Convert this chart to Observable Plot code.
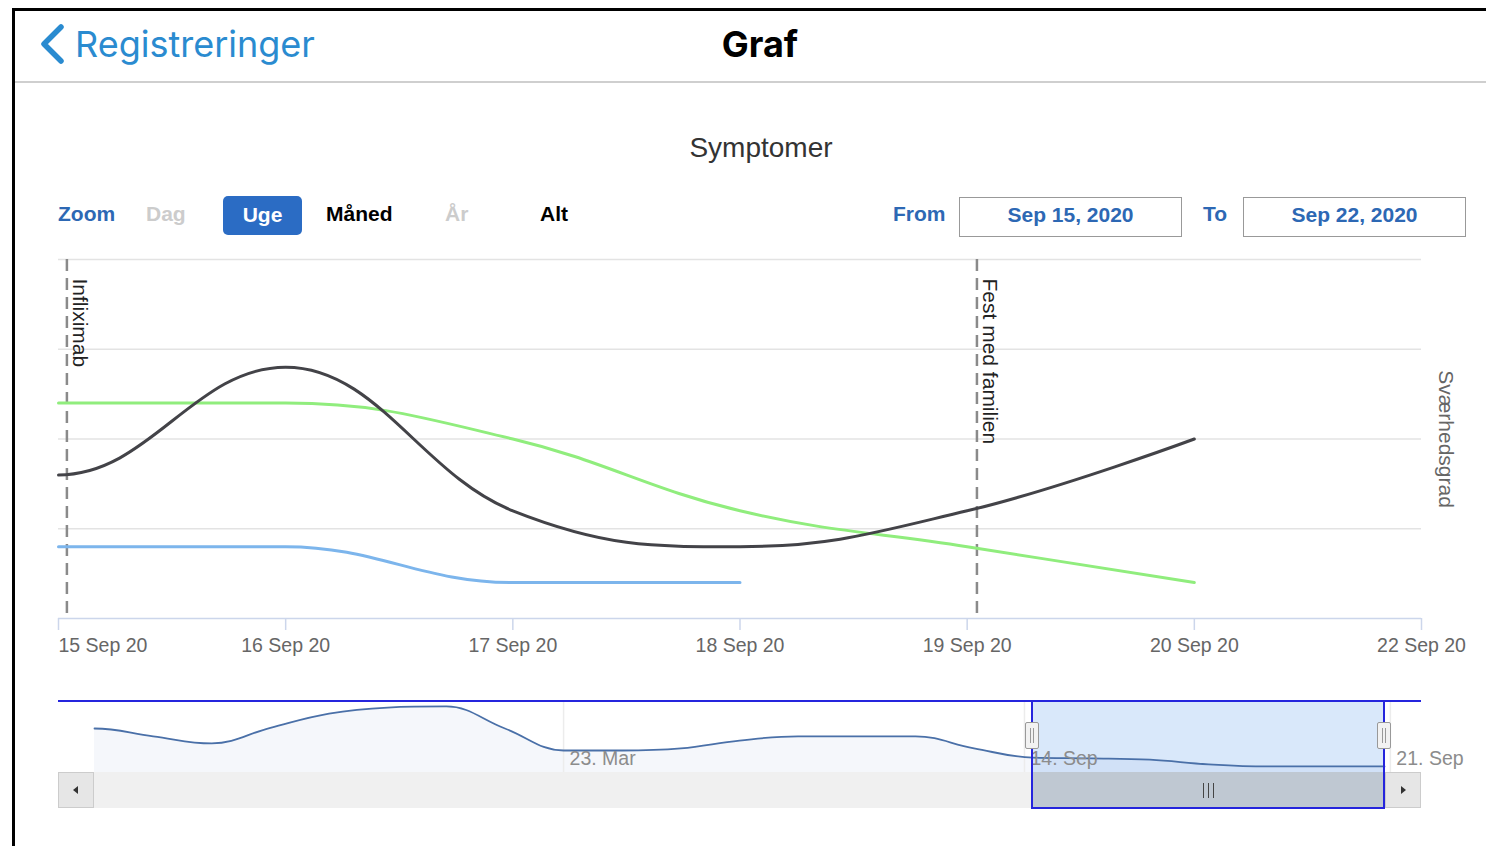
<!DOCTYPE html>
<html>
<head>
<meta charset="utf-8">
<script src="https://cdn.jsdelivr.net/npm/d3@7"></script>
<script src="https://cdn.jsdelivr.net/npm/@observablehq/plot@0.6"></script>
<style>
  html, body { margin: 0; padding: 0; background: #fff; }
  body { width: 1486px; height: 846px; position: relative; overflow: hidden; font-family: "Liberation Sans", Arial, sans-serif; }
  .abs { position: absolute; }
  .hdr { font-family: Inter, "Noto Sans", sans-serif; font-size: 36px; line-height: 36px; white-space: nowrap; }
  .rs { font-size: 21px; font-weight: bold; line-height: 40px; height: 40px; top: 194px; white-space: nowrap; }
  .box { top: 197px; width: 223px; height: 40px; box-sizing: border-box; border: 1.5px solid #999; text-align: center; line-height: 33px; font-size: 21px; font-weight: bold; color: #2d68b4; }
  #mainChart, #navChart { position: absolute; left: 0; }
  #mainChart { top: 240px; }
  #navChart { top: 690px; }
</style>
</head>
<body>
<!-- device frame -->
<div class="abs" style="left:12px;top:8px;width:1474px;height:3px;background:#000"></div>
<div class="abs" style="left:12px;top:8px;width:3px;height:838px;background:#000"></div>

<!-- navigation header -->
<svg class="abs" style="left:36px;top:22px" width="34" height="46">
  <polyline points="25,5 8,22 25,39" fill="none" stroke="#2a8bd0" stroke-width="5.5" stroke-linecap="round" stroke-linejoin="round"/>
</svg>
<div class="abs hdr" style="left:75px;top:26px;color:#2a8bd0">Registreringer</div>
<div class="abs hdr" style="left:660px;top:26px;width:200px;text-align:center;font-weight:bold;color:#000">Graf</div>
<div class="abs" style="left:15px;top:81px;width:1471px;height:1.5px;background:#cfcfcf"></div>

<!-- chart title -->
<div class="abs" style="left:561px;top:134px;width:400px;text-align:center;font-size:28px;line-height:28px;color:#333">Symptomer</div>

<!-- range selector -->
<div class="abs rs" style="left:58px;color:#2d68b4">Zoom</div>
<div class="abs rs" style="left:146px;color:#cccccc">Dag</div>
<div class="abs" style="left:223px;top:196px;width:79px;height:39px;border-radius:5px;background:#2b6cc4;color:#fff;font-size:21px;font-weight:bold;line-height:37px;text-align:center">Uge</div>
<div class="abs rs" style="left:326px;color:#000">Måned</div>
<div class="abs rs" style="left:445px;color:#cccccc">År</div>
<div class="abs rs" style="left:540px;color:#000">Alt</div>
<div class="abs rs" style="left:893px;color:#2d68b4">From</div>
<div class="abs box" style="left:959px">Sep 15, 2020</div>
<div class="abs rs" style="left:1203px;color:#2d68b4">To</div>
<div class="abs box" style="left:1243px">Sep 22, 2020</div>

<div id="mainChart"></div>
<div id="navChart"></div>
<div id="scroll"></div>

<script>
// ---------------- data ----------------
const xLabels = ["15 Sep 20", "16 Sep 20", "17 Sep 20", "18 Sep 20", "19 Sep 20", "20 Sep 20", "22 Sep 20"];
const seriesBlack = [4, 7, 3, 2, 3, 5];
const seriesGreen = [6, 6, 5, 3, 2, 1];
const seriesBlue  = [2, 2, 1, 1];
const yGrid = [2.5, 5, 7.5, 10];
const yTitle = "Sværhedsgrad";

const plotLineLabels = ["Infliximab", "Fest med familien"];
const plotLineAt = [0.037, 4.043];   // position in days from 15 Sep

// navigator (whole history, ordinal positions)
const navValues = [6.2, 5.1, 4.1, 6.3, 8.3, 9.15, 9.3, 6.2, 3.1, 3.1, 3.4, 4.5, 5.1, 5.1, 5.1, 3.4, 2.1, 2.0, 1.8, 1.15, 0.85, 0.85, 0.85];
const navTickLabels = ["23. Mar", "14. Sep", "21. Sep"];
const navTickAt = [8, 15.86, 22.1];
const navSelection = [16, 22];

// ------------- Highcharts-like spline curve -------------
function splineControls(p, i) {
  const [x, y] = p[i];
  let prev = p[i - 1];
  const next = p[i + 1];
  if (!next) return {lx: x, ly: y, rx: x, ry: y};
  if (!prev) prev = [2 * x - next[0], y];
  const s = 1.5, d = 2.5;
  let lx = (s * x + prev[0]) / d, ly = (s * y + prev[1]) / d;
  let rx = (s * x + next[0]) / d, ry = (s * y + next[1]) / d;
  if (rx !== lx) {
    const c = ((ry - ly) * (rx - x)) / (rx - lx) + y - ry;
    ly += c; ry += c;
  }
  if (ly > prev[1] && ly > y) { ly = Math.max(prev[1], y); ry = 2 * y - ly; }
  else if (ly < prev[1] && ly < y) { ly = Math.min(prev[1], y); ry = 2 * y - ly; }
  if (ry > next[1] && ry > y) { ry = Math.max(next[1], y); ly = 2 * y - ry; }
  else if (ry < next[1] && ry < y) { ry = Math.min(next[1], y); ly = 2 * y - ry; }
  return {lx, ly, rx, ry};
}
function hcSpline(context) {
  return {
    areaStart() { this._line = 0; },
    areaEnd() { this._line = NaN; },
    lineStart() { this._pts = []; },
    point(x, y) { this._pts.push([+x, +y]); },
    lineEnd() {
      const p = this._pts, n = p.length;
      if (n) {
        if (this._line) context.lineTo(p[0][0], p[0][1]); else context.moveTo(p[0][0], p[0][1]);
        const c = p.map((_, i) => splineControls(p, i));
        for (let i = 1; i < n; i++) {
          context.bezierCurveTo(c[i - 1].rx, c[i - 1].ry, c[i].lx, c[i].ly, p[i][0], p[i][1]);
        }
      }
      if (this._line || (this._line !== 0 && n === 1)) context.closePath();
      this._line = 1 - this._line;
    }
  };
}

// ------------- main chart -------------
const toRows = (arr) => arr.map((v, i) => ({day: i, value: v}));
const xIdx = xLabels.map((_, i) => i);
const plotLines = plotLineLabels.map((label, i) => ({label, at: plotLineAt[i]}));
const FONT = "Liberation Sans, Arial, sans-serif";

const main = Plot.plot({
  width: 1486,
  height: 430,
  marginLeft: 58,
  marginRight: 65,
  marginTop: 19,
  marginBottom: 52,
  x: {domain: [0, xLabels.length - 1], axis: null},
  y: {domain: [0, 10], axis: null},
  style: {background: "transparent", fontFamily: FONT, overflow: "visible"},
  marks: [
    Plot.ruleY(yGrid, {stroke: "#e3e3e3", strokeWidth: 1.5}),
    Plot.ruleY([0], {stroke: "#ccd6eb", strokeWidth: 1.5}),
    Plot.ruleX(xIdx, {x: d => d, y1: 0, y2: 0, insetBottom: -12, stroke: "#ccd6eb", strokeWidth: 1.5}),
    Plot.text(xIdx.slice(0, 1), {x: d => d, y: 0, dy: 27, text: i => xLabels[i], textAnchor: "start", fontSize: 19.5, fill: "#666"}),
    Plot.text(xIdx.slice(1), {x: d => d, y: 0, dy: 27, text: i => xLabels[i], textAnchor: "middle", fontSize: 19.5, fill: "#666"}),
    Plot.ruleX(plotLines, {x: "at", stroke: "#8a8a8a", strokeWidth: 2.5, strokeDasharray: "12,7"}),
    Plot.line(toRows(seriesBlue), {x: "day", y: "value", stroke: "#7cb5ec", strokeWidth: 3, curve: hcSpline}),
    Plot.line(toRows(seriesGreen), {x: "day", y: "value", stroke: "#90ed7d", strokeWidth: 3, curve: hcSpline}),
    Plot.line(toRows(seriesBlack), {x: "day", y: "value", stroke: "#434348", strokeWidth: 3, curve: hcSpline}),
    Plot.text(plotLines, {x: "at", frameAnchor: "top", text: "label", rotate: 90, textAnchor: "start", lineAnchor: "middle", dx: 13, dy: 19, fontSize: 21, fill: "#222"}),
    Plot.text([yTitle], {frameAnchor: "right", text: d => d, rotate: 90, textAnchor: "middle", lineAnchor: "middle", dx: 24, fontSize: 21, fill: "#666"})
  ]
});
document.getElementById("mainChart").appendChild(main);

// ------------- navigator -------------
const navRows = navValues.map((v, i) => ({idx: i, value: v}));
const navTicks = navTickLabels.map((label, i) => ({label, at: navTickAt[i]}));
const pxPer = 1290 / (navValues.length - 1);
const nav = Plot.plot({
  width: 1486,
  height: 90,
  marginLeft: 58,
  marginRight: 65,
  marginTop: 11,
  marginBottom: 8,
  x: {domain: [-36 / pxPer, navValues.length - 1 + 37 / pxPer], axis: null},
  y: {domain: [0, 10], axis: null},
  style: {background: "transparent", fontFamily: FONT, overflow: "visible"},
  marks: [
    Plot.areaY(navRows, {x: "idx", y: "value", fill: "#335cad", fillOpacity: 0.05, curve: hcSpline}),
    Plot.ruleX(navTicks, {x: "at", stroke: "#ececec", strokeWidth: 1.5}),
    Plot.rect([navSelection], {x1: d => d[0], x2: d => d[1], fill: "rgb(80,150,230)", fillOpacity: 0.22}),
    Plot.line(navRows, {x: "idx", y: "value", stroke: "#4a70a8", strokeWidth: 1.8, curve: hcSpline}),
    Plot.text(navTicks, {x: "at", frameAnchor: "bottom", text: "label", textAnchor: "start", lineAnchor: "middle", dx: 6, dy: -14, fontSize: 19.5, fill: "#8c8c8c"})
  ]
});
document.getElementById("navChart").appendChild(nav);

// ------------- scrollbar / navigator chrome (aligned to the navigator x scale) -------------
const xs = nav.scale("x");
const selL = xs.apply(navSelection[0]);
const selR = xs.apply(navSelection[1]);
const left = 58, right = 1421;
const blue = "#2525dd";
const scroll = document.getElementById("scroll");
function add(style, html = "") {
  const d = document.createElement("div");
  d.className = "abs";
  d.setAttribute("style", style);
  d.innerHTML = html;
  scroll.appendChild(d);
  return d;
}
// track
add(`left:${left}px;top:772px;width:${right - left}px;height:36px;background:#f0f0f0`);
// thumb
add(`left:${selL}px;top:772px;width:${selR - selL}px;height:36px;background:#bfc8d2`);
// grip
for (const off of [-5, 0, 5]) add(`left:${(selL + selR) / 2 + off - 0.5}px;top:783px;width:1px;height:15px;background:#444`);
// buttons
add(`left:${left}px;top:772px;width:36px;height:36px;box-sizing:border-box;background:#e6e6e6;border:1px solid #cccccc`);
add(`left:${left + 15}px;top:786px;width:0;height:0;border-top:4px solid transparent;border-bottom:4px solid transparent;border-right:5px solid #333`);
add(`left:${right - 36}px;top:772px;width:36px;height:36px;box-sizing:border-box;background:#e6e6e6;border:1px solid #cccccc`);
add(`left:${right - 20}px;top:786px;width:0;height:0;border-top:4px solid transparent;border-bottom:4px solid transparent;border-left:5px solid #333`);
// outline
add(`left:${left}px;top:700px;width:${right - left}px;height:2px;background:${blue}`);
add(`left:${selL - 1}px;top:700px;width:${selR - selL + 2}px;height:109px;box-sizing:border-box;border:2px solid ${blue}`);
// handles
for (const hx of [selL, selR]) {
  add(`left:${hx - 7}px;top:722px;width:14px;height:27px;box-sizing:border-box;background:#f2f2f2;border:1px solid #999;border-radius:2px`);
  add(`left:${hx - 2}px;top:728px;width:1px;height:15px;background:#999`);
  add(`left:${hx + 1}px;top:728px;width:1px;height:15px;background:#999`);
}
</script>
</body>
</html>
